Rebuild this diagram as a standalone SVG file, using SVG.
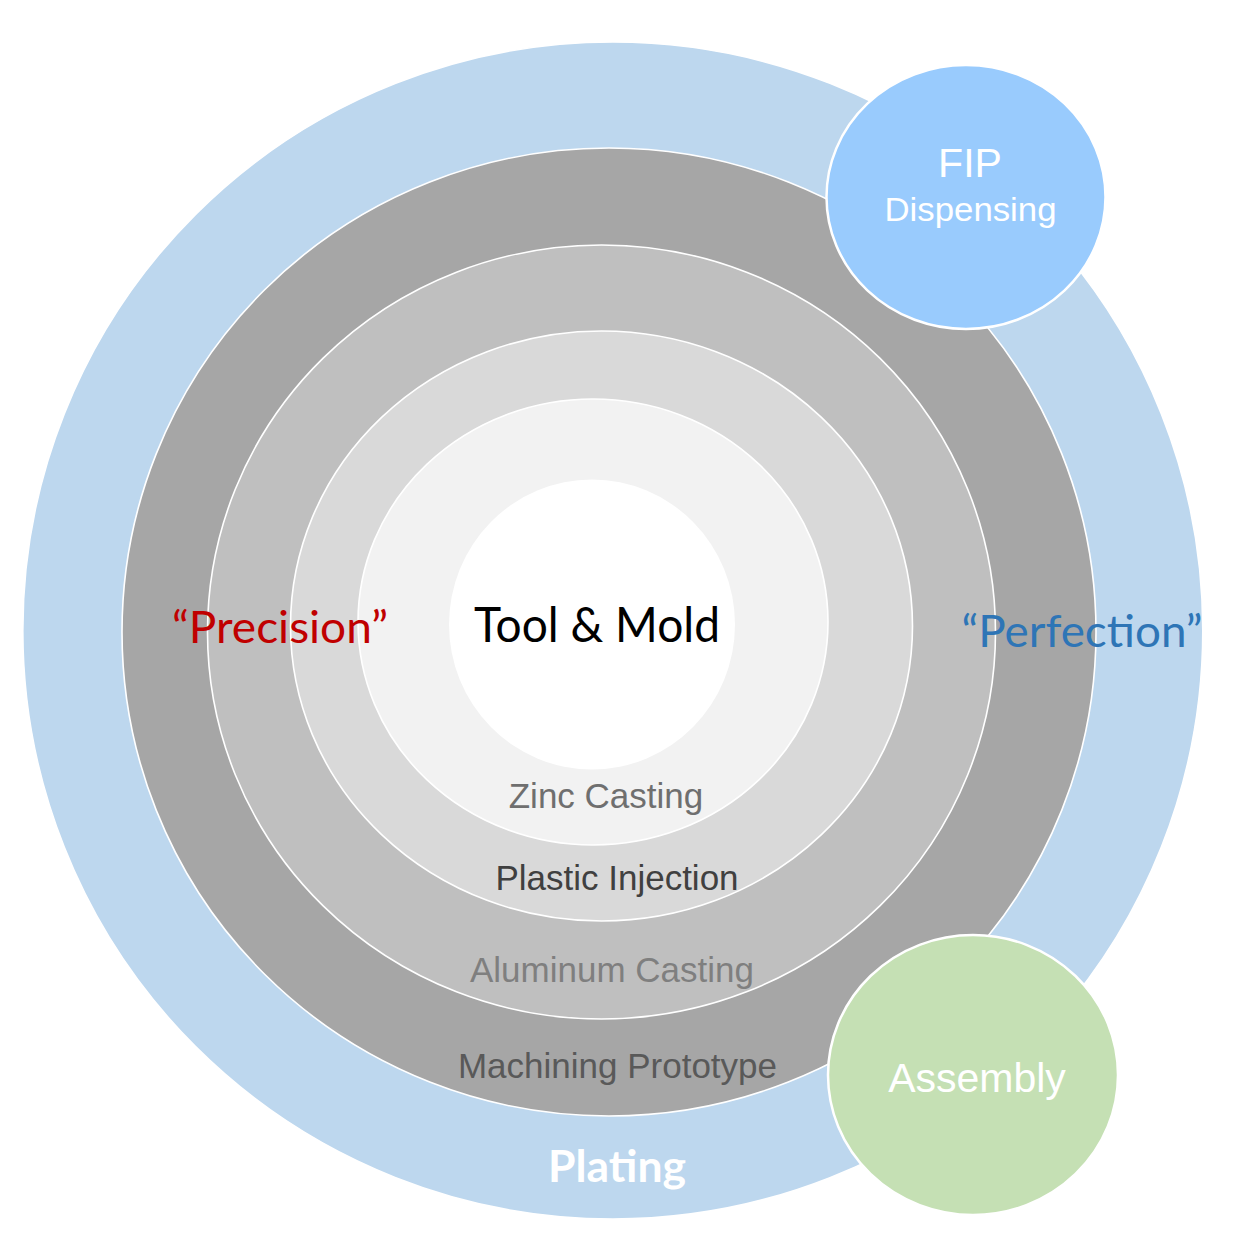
<svg xmlns="http://www.w3.org/2000/svg" width="1240" height="1252" viewBox="0 0 1240 1252">
  <style>
    .ring { stroke: #ffffff; stroke-width: 1.6; }
    .lbl { font-family: "Liberation Sans", Arial, sans-serif; font-size: 35px; text-anchor: middle; }
    .cal { font-family: Lato, "Open Sans", sans-serif; text-anchor: middle; }
    .bub { stroke: #ffffff; stroke-width: 2.5; }
    .wt { fill: #ffffff; font-family: "Liberation Sans", Arial, sans-serif; text-anchor: middle; }
  </style>
  <rect width="1240" height="1252" fill="#ffffff"/>

  <g id="plating">
    <ellipse class="ring" cx="612.8" cy="630.5" rx="590" ry="588.5" fill="#BDD7EE"/>
  </g>
  <g id="machining-prototype">
    <ellipse class="ring" cx="609" cy="632" rx="487" ry="484" fill="#A6A6A6"/>
  </g>
  <g id="aluminum-casting">
    <ellipse class="ring" cx="601.5" cy="632" rx="394" ry="387" fill="#BFBFBF"/>
  </g>
  <g id="plastic-injection">
    <ellipse class="ring" cx="601.5" cy="626" rx="311" ry="295" fill="#D9D9D9"/>
  </g>
  <g id="zinc-casting">
    <ellipse class="ring" cx="593" cy="622" rx="235" ry="223" fill="#F2F2F2"/>
  </g>
  <g id="tool-mold">
    <ellipse cx="592" cy="624.5" rx="143" ry="145" fill="#FFFFFF"/>
    <text class="cal" x="597" y="642" font-size="48" fill="#000000" textLength="246" lengthAdjust="spacingAndGlyphs">Tool &amp; Mold</text>
  </g>

  <g id="labels">
    <text class="lbl" x="606" y="808" fill="#6F6F6F">Zinc Casting</text>
    <text class="lbl" x="617" y="890" fill="#404040">Plastic Injection</text>
    <text class="lbl" x="612" y="982" fill="#7F7F7F">Aluminum Casting</text>
    <text class="lbl" x="617.5" y="1078" fill="#595959">Machining Prototype</text>
    <text class="cal" x="617" y="1182" font-size="44" font-weight="700" fill="#FFFFFF" textLength="138" lengthAdjust="spacingAndGlyphs">Plating</text>
    <text class="cal" x="280" y="643" font-size="44" fill="#C00000" textLength="216" lengthAdjust="spacingAndGlyphs">“Precision”</text>
    <text class="cal" x="1082" y="647" font-size="44" fill="#2E75B6" textLength="241" lengthAdjust="spacingAndGlyphs">“Perfection”</text>
  </g>

  <g id="fip-dispensing">
    <ellipse class="bub" cx="966" cy="197" rx="139.5" ry="132" fill="#99CBFD"/>
    <text class="wt" x="970" y="177" font-size="41">FIP</text>
    <text class="wt" x="970.5" y="221" font-size="34" textLength="172" lengthAdjust="spacingAndGlyphs">Dispensing</text>
  </g>

  <g id="assembly">
    <ellipse class="bub" cx="973" cy="1075" rx="145" ry="140" fill="#C5E0B4"/>
    <text class="wt" x="977" y="1092" font-size="41">Assembly</text>
  </g>

  <g id="connectors"/>
</svg>
